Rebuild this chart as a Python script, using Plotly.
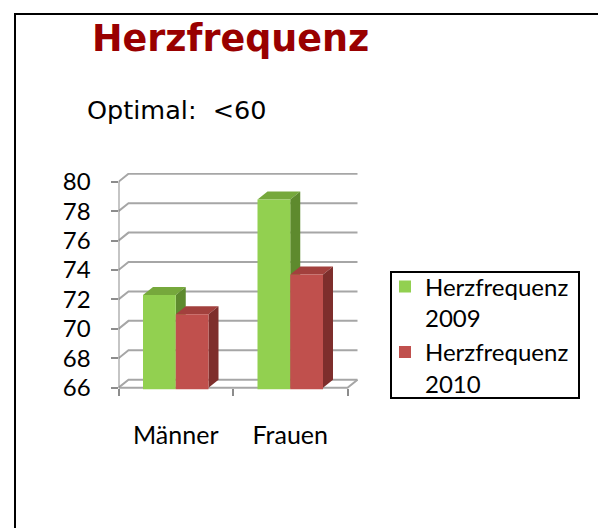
import plotly.graph_objects as go

# ---- data ----
categories = ["Männer", "Frauen"]
series_names = ["Herzfrequenz<br>2009", "Herzfrequenz<br>2010"]
values_2009 = [72.3, 78.8]
values_2010 = [71.0, 73.7]
y_tick_values = [66, 68, 70, 72, 74, 76, 78, 80]

# ---- style ----
W, H = 598, 528
front_colors = ["#92D050", "#C0504D"]
top_colors = ["#76A83C", "#A2403D"]
side_colors = ["#5E8A2E", "#7E2E2C"]
grid_color = "#A6A6A6"
axis_color = "#8C8C8C"
label_font = "Lato, Open Sans, sans-serif"

# layout geometry (pixels of the figure)
x_left_px, x_unit_px = 118.5, 114.5          # front plane: category -0.5 at x_left_px
y66_px, y_unit_px = 387.7, 14.71             # front plane: value 66 at y66_px
x_range = [-0.5, 1.6]
y_range = [65.9, 80.6]
depth_dx = 10 / x_unit_px                    # 3D depth offset in data units
depth_dy = 8 / y_unit_px
bargap = 0.428
bar_w = (1 - bargap) / 2

x_dom = [x_left_px / W, (x_left_px + (x_range[1] - x_range[0]) * x_unit_px) / W]
y_bot_px = y66_px + (66 - y_range[0]) * y_unit_px
y_top_px = y66_px - (y_range[1] - 66) * y_unit_px
y_dom = [1 - y_bot_px / H, 1 - y_top_px / H]

fig = go.Figure()
all_series = [values_2009, values_2010]
for j, vals in enumerate(all_series):
    fig.add_trace(go.Bar(
        x=categories, y=vals, name=series_names[j],
        marker=dict(color=front_colors[j], line=dict(width=0)),
    ))

shapes = []
# outer frame
shapes.append(dict(type="rect", xref="paper", yref="paper",
                   x0=15 / W, x1=1.2, y0=-0.2, y1=1 - 14 / H,
                   line=dict(color="black", width=2), fillcolor="rgba(0,0,0,0)", layer="above"))
# legend box
shapes.append(dict(type="rect", xref="paper", yref="paper",
                   x0=391 / W, x1=579 / W, y0=1 - 398 / H, y1=1 - 272 / H,
                   line=dict(color="black", width=2), fillcolor="rgba(0,0,0,0)", layer="above"))

x_lo, x_hi = -0.5, len(categories) - 0.5
# back wall gridlines and side-wall diagonals
for v in y_tick_values:
    shapes.append(dict(type="path", xref="x", yref="y", layer="below",
                       path=f"M {x_lo},{v} L {x_lo + depth_dx},{v + depth_dy} L {x_hi + depth_dx},{v + depth_dy}",
                       line=dict(color=grid_color, width=2)))
# floor front edge and right edge
shapes.append(dict(type="path", xref="x", yref="y", layer="below",
                   path=f"M {x_lo},66 L {x_hi},66 L {x_hi + depth_dx},{66 + depth_dy}",
                   line=dict(color=grid_color, width=2)))
# y axis line
shapes.append(dict(type="line", xref="x", yref="y", layer="below",
                   x0=x_lo, x1=x_lo, y0=66, y1=80,
                   line=dict(color=axis_color, width=2)))

# 3D faces of bars
for i in range(len(categories)):
    for j, vals in enumerate(all_series):
        v = vals[i]
        x0 = i - bar_w + j * bar_w
        x1 = x0 + bar_w
        top = (f"M {x0},{v} L {x1},{v} L {x1 + depth_dx},{v + depth_dy} "
               f"L {x0 + depth_dx},{v + depth_dy} Z")
        side = (f"M {x1},66 L {x1},{v} L {x1 + depth_dx},{v + depth_dy} "
                f"L {x1 + depth_dx},{66 + depth_dy} Z")
        shapes.append(dict(type="path", xref="x", yref="y", layer="below", path=top,
                           fillcolor=top_colors[j], line=dict(width=0)))
        shapes.append(dict(type="path", xref="x", yref="y", layer="below", path=side,
                           fillcolor=side_colors[j], line=dict(width=0)))

annotations = [
    dict(text="<b>Herzfrequenz</b>", xref="paper", yref="paper",
         x=230.8 / W, y=1 - 38.4 / H, xanchor="center", yanchor="middle",
         showarrow=False, font=dict(family="DejaVu Sans", size=36.5, color="#990000")),
    dict(text="Optimal:\u00a0 <60", xref="paper", yref="paper",
         x=85 / W, y=1 - 110.5 / H, xanchor="left", yanchor="middle",
         showarrow=False, font=dict(family="DejaVu Sans", size=25.5, color="black")),
]

fig.update_layout(
    width=W, height=H, autosize=False,
    margin=dict(l=0, r=0, t=0, b=0, pad=0, autoexpand=False),
    paper_bgcolor="white", plot_bgcolor="rgba(0,0,0,0)",
    barmode="group", bargap=bargap, bargroupgap=0,
    showlegend=True,
    legend=dict(x=385 / W, y=1 - 264.5 / H, xanchor="left", yanchor="top",
                borderwidth=0, bgcolor="rgba(0,0,0,0)",
                font=dict(family=label_font, size=24, color="black"),
                valign="top", tracegroupgap=0),
    xaxis=dict(domain=x_dom, range=x_range, type="category",
               tickson="boundaries", ticks="outside", ticklen=7, tickwidth=2,
               tickcolor=axis_color, showgrid=False, zeroline=False, showline=False,
               anchor="free", position=1 - y66_px / H, automargin=False,
               ticklabelstandoff=30,
               tickfont=dict(family=label_font, size=25, color="black")),
    yaxis=dict(domain=y_dom, range=y_range, tickvals=y_tick_values,
               ticks="outside", ticklen=7, tickwidth=2, tickcolor=axis_color,
               showgrid=False, zeroline=False, showline=False, automargin=False,
               ticklabelstandoff=15,
               tickfont=dict(family=label_font, size=24, color="black")),
    shapes=shapes, annotations=annotations,
)

fig.write_html("out.html", config={"displayModeBar": False, "responsive": False},
               post_script="document.body.style.margin='0';")
